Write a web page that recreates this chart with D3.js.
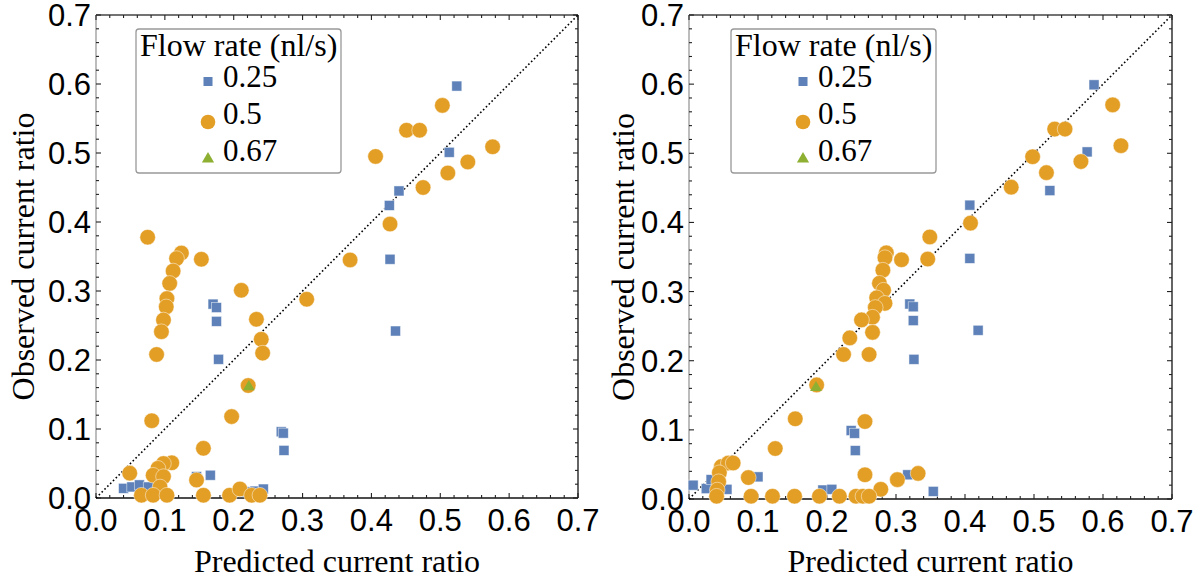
<!DOCTYPE html>
<meta charset="utf-8">
<style>
html, body { margin: 0; padding: 0; background: #fff; }
svg { display: block; }
</style>
<body>
<script src="https://d3js.org/d3.v7.min.js"></script>
<script>

// flow rate series, [predicted, observed]
var legendTitle = "Flow rate (nl/s)";
var seriesNames = ["0.25", "0.5", "0.67"];
var ticks = [0, 0.1, 0.2, 0.3, 0.4, 0.5, 0.6, 0.7];

var leftQ25 = [[0.524,0.597],[0.513,0.501],[0.440,0.445],[0.426,0.424],[0.427,0.346],[0.435,0.242],
  [0.170,0.281],[0.175,0.276],[0.175,0.256],[0.178,0.201],[0.269,0.096],[0.272,0.094],[0.273,0.069],
  [0.146,0.031],[0.166,0.033],[0.040,0.014],[0.052,0.016],[0.063,0.019],[0.076,0.016],
  [0.219,0.009],[0.231,0.010],[0.243,0.013]];
var leftQ50 = [[0.503,0.569],[0.451,0.533],[0.470,0.533],[0.406,0.495],[0.576,0.509],[0.540,0.487],
  [0.511,0.471],[0.475,0.450],[0.427,0.397],[0.369,0.345],[0.306,0.288],
  [0.075,0.378],[0.124,0.355],[0.117,0.347],[0.153,0.346],[0.112,0.329],[0.107,0.311],[0.103,0.289],
  [0.102,0.277],[0.098,0.258],[0.095,0.241],[0.088,0.208],
  [0.211,0.301],[0.233,0.259],[0.240,0.230],[0.242,0.210],[0.221,0.163],[0.197,0.118],[0.081,0.112],
  [0.156,0.072],[0.146,0.026],[0.049,0.036],
  [0.110,0.051],[0.098,0.050],[0.090,0.043],[0.083,0.033],[0.098,0.031],[0.093,0.016],
  [0.066,0.004],[0.083,0.004],[0.103,0.004],[0.156,0.004],[0.194,0.004],[0.209,0.013],[0.226,0.004],[0.238,0.004]];
var leftQ67 = [[0.222,0.161]];

var rightQ25 = [[0.587,0.599],[0.577,0.502],[0.523,0.446],[0.407,0.425],[0.407,0.348],[0.419,0.244],
  [0.320,0.282],[0.325,0.278],[0.325,0.258],[0.326,0.202],[0.235,0.099],[0.240,0.095],[0.241,0.070],
  [0.317,0.035],[0.354,0.011],[0.006,0.020],[0.025,0.015],[0.032,0.028],[0.055,0.014],[0.100,0.032],
  [0.194,0.013],[0.207,0.014]];
var rightQ50 = [[0.614,0.570],[0.626,0.511],[0.568,0.488],[0.530,0.535],[0.545,0.535],[0.498,0.495],
  [0.518,0.472],[0.467,0.451],[0.408,0.399],[0.349,0.379],[0.346,0.347],
  [0.308,0.346],[0.286,0.356],[0.284,0.349],[0.281,0.331],[0.276,0.312],[0.282,0.302],[0.272,0.291],
  [0.284,0.283],[0.270,0.277],[0.266,0.263],[0.250,0.259],[0.266,0.241],[0.233,0.233],[0.224,0.209],[0.261,0.209],
  [0.185,0.165],[0.154,0.116],[0.255,0.112],[0.125,0.073],[0.086,0.031],[0.255,0.035],[0.302,0.028],
  [0.332,0.037],[0.278,0.014],
  [0.047,0.047],[0.057,0.052],[0.064,0.052],[0.044,0.038],[0.043,0.025],[0.041,0.013],[0.040,0.004],
  [0.090,0.004],[0.121,0.004],[0.153,0.004],[0.189,0.004],[0.218,0.004],[0.242,0.004],[0.252,0.004],[0.261,0.004]];
var rightQ67 = [[0.184,0.161]];

var blue = "#5d81b8", orange = "#e39e25", green = "#8db032";
var sans = "'Liberation Sans', Arial, sans-serif";
var serif = "'Liberation Serif', 'Times New Roman', serif";

var width = 1201, height = 579;

var svg = d3.select("body").append("svg")
    .attr("width", width)
    .attr("height", height);

function panel(box, q25, q50, q67) {
  var x = d3.scaleLinear().domain([0, 0.7]).range([box.left, box.right]);
  var y = d3.scaleLinear().domain([0, 0.7]).range([box.bottom, box.top]);
  var g = svg.append("g");

  // frame
  g.append("line").attr("x1", box.left).attr("x2", box.right).attr("y1", box.top).attr("y2", box.top)
    .attr("stroke", "#444").attr("stroke-width", 1.3);
  g.append("line").attr("x1", box.left).attr("x2", box.left).attr("y1", box.top).attr("y2", box.bottom)
    .attr("stroke", "#999").attr("stroke-width", 1.3);
  g.append("line").attr("x1", box.right).attr("x2", box.right).attr("y1", box.top).attr("y2", box.bottom)
    .attr("stroke", "#111").attr("stroke-width", 1.3);
  g.append("line").attr("x1", box.left).attr("x2", box.right).attr("y1", box.bottom).attr("y2", box.bottom)
    .attr("stroke", "#111").attr("stroke-width", 1.3);

  // inward ticks on all four sides
  var minor = d3.range(0, 36).map(function(i) { return i * 0.02; });
  var tk = g.append("g").attr("stroke", "#222").attr("stroke-width", 1.1);
  minor.forEach(function(v) {
    var major = Math.abs(v * 10 - Math.round(v * 10)) < 1e-6;
    var len = major ? 5 : 3;
    tk.append("line").attr("x1", x(v)).attr("x2", x(v)).attr("y1", box.bottom).attr("y2", box.bottom - len);
    tk.append("line").attr("x1", x(v)).attr("x2", x(v)).attr("y1", box.top).attr("y2", box.top + len);
    tk.append("line").attr("y1", y(v)).attr("y2", y(v)).attr("x1", box.left).attr("x2", box.left + len);
    tk.append("line").attr("y1", y(v)).attr("y2", y(v)).attr("x1", box.right).attr("x2", box.right - len);
  });

  // tick labels
  g.selectAll("text.xt").data(ticks).enter().append("text")
    .attr("class", "xt")
    .attr("x", function(d) { return x(d); })
    .attr("y", box.bottom + 33)
    .attr("text-anchor", "middle")
    .style("font-family", sans).style("font-size", "31px")
    .text(function(d) { return d.toFixed(1); });
  g.selectAll("text.yt").data(ticks).enter().append("text")
    .attr("class", "yt")
    .attr("x", box.left - 5)
    .attr("y", function(d) { return y(d) + 11; })
    .attr("text-anchor", "end")
    .style("font-family", sans).style("font-size", "31px")
    .text(function(d) { return d.toFixed(1); });

  // axis titles
  g.append("text")
    .attr("x", (box.left + box.right) / 2)
    .attr("y", 572)
    .attr("text-anchor", "middle")
    .style("font-family", serif).style("font-size", "32px")
    .text("Predicted current ratio");
  g.append("text")
    .attr("transform", "translate(" + box.ytitle + "," + (box.top + box.bottom) / 2 + ") rotate(-90)")
    .attr("text-anchor", "middle")
    .style("font-family", serif).style("font-size", "32px")
    .text("Observed current ratio");

  // 1:1 line
  g.append("line")
    .attr("x1", x(0)).attr("y1", y(0)).attr("x2", x(0.7)).attr("y2", y(0.7))
    .attr("stroke", "#000").attr("stroke-width", 1.6)
    .attr("stroke-dasharray", "1.6,2.4");

  // points
  g.append("g").selectAll("rect").data(q25).enter().append("rect")
    .attr("x", function(d) { return x(d[0]) - 5; })
    .attr("y", function(d) { return y(d[1]) - 5; })
    .attr("width", 10).attr("height", 10)
    .attr("fill", blue).attr("stroke", "#fff").attr("stroke-opacity", 0.6).attr("stroke-width", 0.8);
  g.append("g").selectAll("circle").data(q50).enter().append("circle")
    .attr("cx", function(d) { return x(d[0]); })
    .attr("cy", function(d) { return y(d[1]); })
    .attr("r", 7.8)
    .attr("fill", orange).attr("stroke", "#fff").attr("stroke-opacity", 0.6).attr("stroke-width", 0.8);
  var tri = d3.symbol().type(d3.symbolTriangle).size(60);
  g.append("g").selectAll("path").data(q67).enter().append("path")
    .attr("transform", function(d) { return "translate(" + x(d[0]) + "," + y(d[1]) + ")"; })
    .attr("d", tri)
    .attr("fill", green);

  // legend
  var lg = g.append("g");
  lg.append("rect")
    .attr("x", box.legend).attr("y", 29).attr("width", 205).attr("height", 144)
    .attr("rx", 3)
    .attr("fill", "#fff").attr("stroke", "#999").attr("stroke-width", 1.3);
  lg.append("text")
    .attr("x", box.legend + 4).attr("y", 56)
    .style("font-family", serif).style("font-size", "32px")
    .text(legendTitle);
  var mx = box.legend + 72;
  lg.append("rect").attr("x", mx - 4.5).attr("y", 77).attr("width", 9).attr("height", 9).attr("fill", blue);
  lg.append("circle").attr("cx", mx).attr("cy", 122).attr("r", 7.3).attr("fill", orange);
  lg.append("path").attr("transform", "translate(" + mx + ",159)")
    .attr("d", d3.symbol().type(d3.symbolTriangle).size(64)).attr("fill", green);
  lg.selectAll("text.it").data(seriesNames).enter().append("text")
    .attr("class", "it")
    .attr("x", box.legend + 87)
    .attr("y", function(d, i) { return [87, 124, 161][i]; })
    .style("font-family", serif).style("font-size", "31px")
    .text(function(d) { return d; });
}

panel({left: 96, right: 578, top: 15, bottom: 498, ytitle: 34, legend: 136}, leftQ25, leftQ50, leftQ67);
panel({left: 689, right: 1172, top: 15, bottom: 499, ytitle: 634, legend: 731}, rightQ25, rightQ50, rightQ67);

</script>
</body>
